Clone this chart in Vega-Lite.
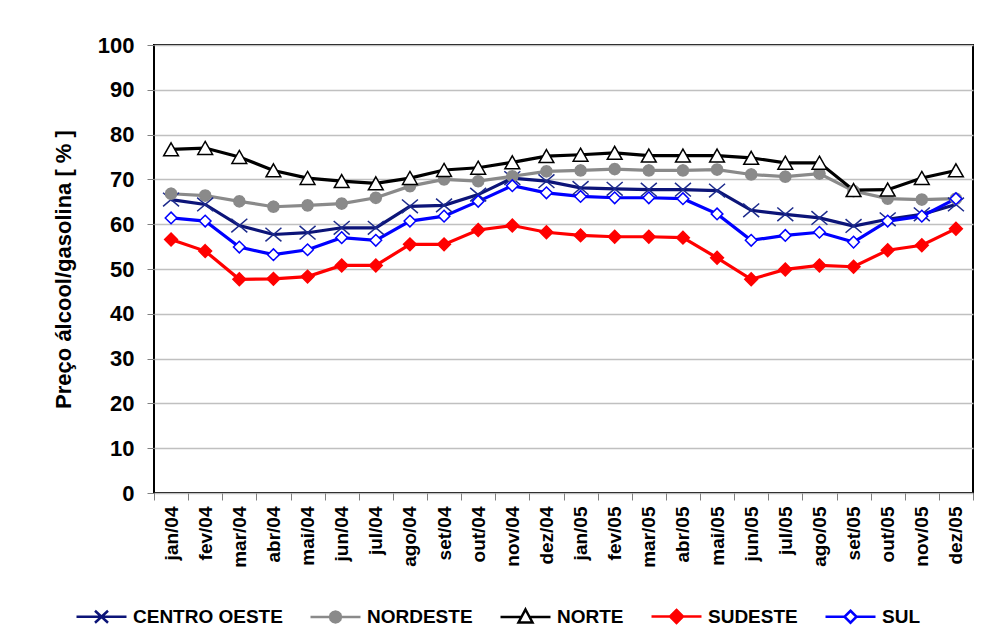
{
  "$schema": "https://vega.github.io/schema/vega-lite/v6.json",
  "width": 819,
  "height": 448,
  "autosize": {"type": "none"},
  "padding": {"left": 154, "top": 45, "right": 8, "bottom": 138},
  "background": "white",
  "config": {
    "font": "Liberation Sans",
    "view": {"stroke": "black", "strokeWidth": 2},
    "axis": {"labelColor": "black", "labelFontWeight": "bold", "titleColor": "black", "titleFontWeight": "bold", "tickColor": "#808080", "domain": false}
  },
  "data": {
    "values": [
      {"mes": "jan/04", "CENTRO OESTE": 65.5, "NORDESTE": 66.8, "NORTE": 76.7, "SUDESTE": 56.6, "SUL": 61.4},
      {"mes": "fev/04", "CENTRO OESTE": 64.4, "NORDESTE": 66.4, "NORTE": 77.0, "SUDESTE": 54.0, "SUL": 60.7},
      {"mes": "mar/04", "CENTRO OESTE": 59.7, "NORDESTE": 65.1, "NORTE": 75.0, "SUDESTE": 47.7, "SUL": 54.9},
      {"mes": "abr/04", "CENTRO OESTE": 57.7, "NORDESTE": 63.9, "NORTE": 72.0, "SUDESTE": 47.8, "SUL": 53.2},
      {"mes": "mai/04", "CENTRO OESTE": 58.1, "NORDESTE": 64.2, "NORTE": 70.3, "SUDESTE": 48.3, "SUL": 54.3},
      {"mes": "jun/04", "CENTRO OESTE": 59.2, "NORDESTE": 64.6, "NORTE": 69.6, "SUDESTE": 50.8, "SUL": 57.0},
      {"mes": "jul/04", "CENTRO OESTE": 59.2, "NORDESTE": 65.9, "NORTE": 69.1, "SUDESTE": 50.8, "SUL": 56.4},
      {"mes": "ago/04", "CENTRO OESTE": 64.0, "NORDESTE": 68.5, "NORTE": 70.3, "SUDESTE": 55.5, "SUL": 60.7},
      {"mes": "set/04", "CENTRO OESTE": 64.2, "NORDESTE": 70.0, "NORTE": 72.1, "SUDESTE": 55.5, "SUL": 61.8},
      {"mes": "out/04", "CENTRO OESTE": 66.6, "NORDESTE": 69.6, "NORTE": 72.6, "SUDESTE": 58.7, "SUL": 65.1},
      {"mes": "nov/04", "CENTRO OESTE": 70.3, "NORDESTE": 70.7, "NORTE": 73.8, "SUDESTE": 59.7, "SUL": 68.6},
      {"mes": "dez/04", "CENTRO OESTE": 69.6, "NORDESTE": 71.8, "NORTE": 75.2, "SUDESTE": 58.2, "SUL": 67.0},
      {"mes": "jan/05", "CENTRO OESTE": 68.1, "NORDESTE": 72.0, "NORTE": 75.5, "SUDESTE": 57.5, "SUL": 66.2},
      {"mes": "fev/05", "CENTRO OESTE": 67.9, "NORDESTE": 72.3, "NORTE": 75.9, "SUDESTE": 57.2, "SUL": 65.9},
      {"mes": "mar/05", "CENTRO OESTE": 67.7, "NORDESTE": 72.0, "NORTE": 75.3, "SUDESTE": 57.2, "SUL": 65.9},
      {"mes": "abr/05", "CENTRO OESTE": 67.7, "NORDESTE": 72.0, "NORTE": 75.3, "SUDESTE": 57.0, "SUL": 65.7},
      {"mes": "mai/05", "CENTRO OESTE": 67.5, "NORDESTE": 72.2, "NORTE": 75.3, "SUDESTE": 52.5, "SUL": 62.3},
      {"mes": "jun/05", "CENTRO OESTE": 63.1, "NORDESTE": 71.1, "NORTE": 74.8, "SUDESTE": 47.7, "SUL": 56.4},
      {"mes": "jul/05", "CENTRO OESTE": 62.2, "NORDESTE": 70.6, "NORTE": 73.7, "SUDESTE": 49.9, "SUL": 57.5},
      {"mes": "ago/05", "CENTRO OESTE": 61.4, "NORDESTE": 71.3, "NORTE": 73.7, "SUDESTE": 50.8, "SUL": 58.2},
      {"mes": "set/05", "CENTRO OESTE": 59.6, "NORDESTE": 67.4, "NORTE": 67.6, "SUDESTE": 50.5, "SUL": 56.0},
      {"mes": "out/05", "CENTRO OESTE": 61.1, "NORDESTE": 65.7, "NORTE": 67.7, "SUDESTE": 54.2, "SUL": 60.7},
      {"mes": "nov/05", "CENTRO OESTE": 62.2, "NORDESTE": 65.5, "NORTE": 70.3, "SUDESTE": 55.3, "SUL": 61.8},
      {"mes": "dez/05", "CENTRO OESTE": 64.4, "NORDESTE": 65.7, "NORTE": 72.0, "SUDESTE": 59.0, "SUL": 65.7}
    ]
  },
  "transform": [
    {"fold": ["CENTRO OESTE", "NORDESTE", "NORTE", "SUDESTE", "SUL"], "as": ["serie", "valor"]}
  ],
  "encoding": {
    "x": {
      "field": "mes", "type": "ordinal", "sort": null,
      "scale": {"type": "band", "paddingInner": 0, "paddingOuter": 0},
      "axis": {"title": null, "labelAngle": -90, "labelFontSize": 19, "labelPadding": 6, "tickBand": "extent", "tickSize": 7, "grid": false}
    },
    "y": {
      "field": "valor", "type": "quantitative",
      "scale": {"domain": [0, 100]},
      "axis": {"title": "Preço álcool/gasolina [ % ]", "titleFontSize": 22, "titlePadding": 22, "values": [0, 10, 20, 30, 40, 50, 60, 70, 80, 90, 100], "labelFontSize": 22, "labelPadding": 13, "tickSize": 7, "grid": true, "gridColor": "#c0c0c0", "gridWidth": 1.5}
    }
  },
  "layer": [
    {
      "mark": {"type": "line", "strokeWidth": 3.2},
      "encoding": {
        "color": {"field": "serie", "type": "nominal", "legend": null,
          "scale": {"domain": ["CENTRO OESTE", "NORDESTE", "NORTE", "SUDESTE", "SUL"], "range": ["#0c1478", "#8a8a8a", "#000000", "#ff0000", "#0000ff"]}}
      }
    },
    {
      "mark": {"type": "point", "filled": true, "size": 64, "strokeWidth": 1.5, "opacity": 1},
      "encoding": {
        "shape": {"field": "serie", "type": "nominal", "legend": null,
          "scale": {"domain": ["CENTRO OESTE", "NORDESTE", "NORTE", "SUDESTE", "SUL"], "range": [
            "M-2,-1.7L2,1.7M-2,1.7L2,-1.7",
            "M1.4,0L1.212,0.7L0.7,1.212L0,1.4L-0.7,1.212L-1.212,0.7L-1.4,0L-1.212,-0.7L-0.7,-1.212L0,-1.4L0.7,-1.212L1.212,-0.7Z",
            "M0,-1.65L1.85,1.6L-1.85,1.6Z",
            "M0,-1.6L1.6,0L0,1.6L-1.6,0Z",
            "M0,-1.45L1.45,0L0,1.45L-1.45,0Z"]}},
        "fill": {"field": "serie", "type": "nominal", "legend": null,
          "scale": {"domain": ["CENTRO OESTE", "NORDESTE", "NORTE", "SUDESTE", "SUL"], "range": ["#1c2a8c", "#8a8a8a", "#ffffff", "#ff0000", "#ffffff"]}},
        "stroke": {"field": "serie", "type": "nominal", "legend": null,
          "scale": {"domain": ["CENTRO OESTE", "NORDESTE", "NORTE", "SUDESTE", "SUL"], "range": ["#1c2a8c", "#8a8a8a", "#000000", "#ff0000", "#0000ff"]}}
      }
    },
    {
      "mark": {"type": "point", "filled": true, "opacity": 0, "strokeWidth": 2.5},
      "encoding": {
        "shape": {"field": "serie", "type": "nominal",
          "scale": {"domain": ["CENTRO OESTE", "NORDESTE", "NORTE", "SUDESTE", "SUL"], "range": [
            "M-1,0L1,0M-0.26,-0.24L0.26,0.24M-0.26,0.24L0.26,-0.24",
            "M-1,0L1,0M0.22,0L0.19,0.11L0.11,0.19L0,0.22L-0.11,0.19L-0.19,0.11L-0.22,0L-0.19,-0.11L-0.11,-0.19L0,-0.22L0.11,-0.19L0.19,-0.11Z",
            "M-1,0L-0.16,0M0.16,0L1,0M0,-0.3L0.28,0.22L-0.28,0.22Z",
            "M-1,0L1,0M0,-0.26L0.26,0L0,0.26L-0.26,0Z",
            "M-1,0L-0.24,0M0.24,0L1,0M0,-0.24L0.24,0L0,0.24L-0.24,0Z"]},
          "legend": {"title": null, "orient": "none", "legendX": -79, "legendY": 545, "direction": "horizontal", "symbolSize": 2500, "symbolStrokeWidth": 2.5, "symbolOpacity": 1, "labelFontSize": 19, "labelFontWeight": "bold", "labelColor": "black", "labelFont": "Liberation Sans", "labelOffset": 5, "columnPadding": 22}},
        "fill": {"field": "serie", "type": "nominal",
          "scale": {"domain": ["CENTRO OESTE", "NORDESTE", "NORTE", "SUDESTE", "SUL"], "range": ["#0c1478", "#8a8a8a", "#ffffff", "#ff0000", "#ffffff"]},
          "legend": {"title": null, "orient": "none", "legendX": -79, "legendY": 545, "direction": "horizontal", "symbolSize": 2500, "symbolStrokeWidth": 2.5, "symbolOpacity": 1, "labelFontSize": 19, "labelFontWeight": "bold", "labelColor": "black", "labelFont": "Liberation Sans", "labelOffset": 5, "columnPadding": 22}},
        "stroke": {"field": "serie", "type": "nominal",
          "scale": {"domain": ["CENTRO OESTE", "NORDESTE", "NORTE", "SUDESTE", "SUL"], "range": ["#0c1478", "#8a8a8a", "#000000", "#ff0000", "#0000ff"]},
          "legend": {"title": null, "orient": "none", "legendX": -79, "legendY": 545, "direction": "horizontal", "symbolSize": 2500, "symbolStrokeWidth": 2.5, "symbolOpacity": 1, "labelFontSize": 19, "labelFontWeight": "bold", "labelColor": "black", "labelFont": "Liberation Sans", "labelOffset": 5, "columnPadding": 22}}
      }
    }
  ],
  "resolve": {"scale": {"shape": "independent", "fill": "independent", "stroke": "independent", "color": "independent"}}
}
